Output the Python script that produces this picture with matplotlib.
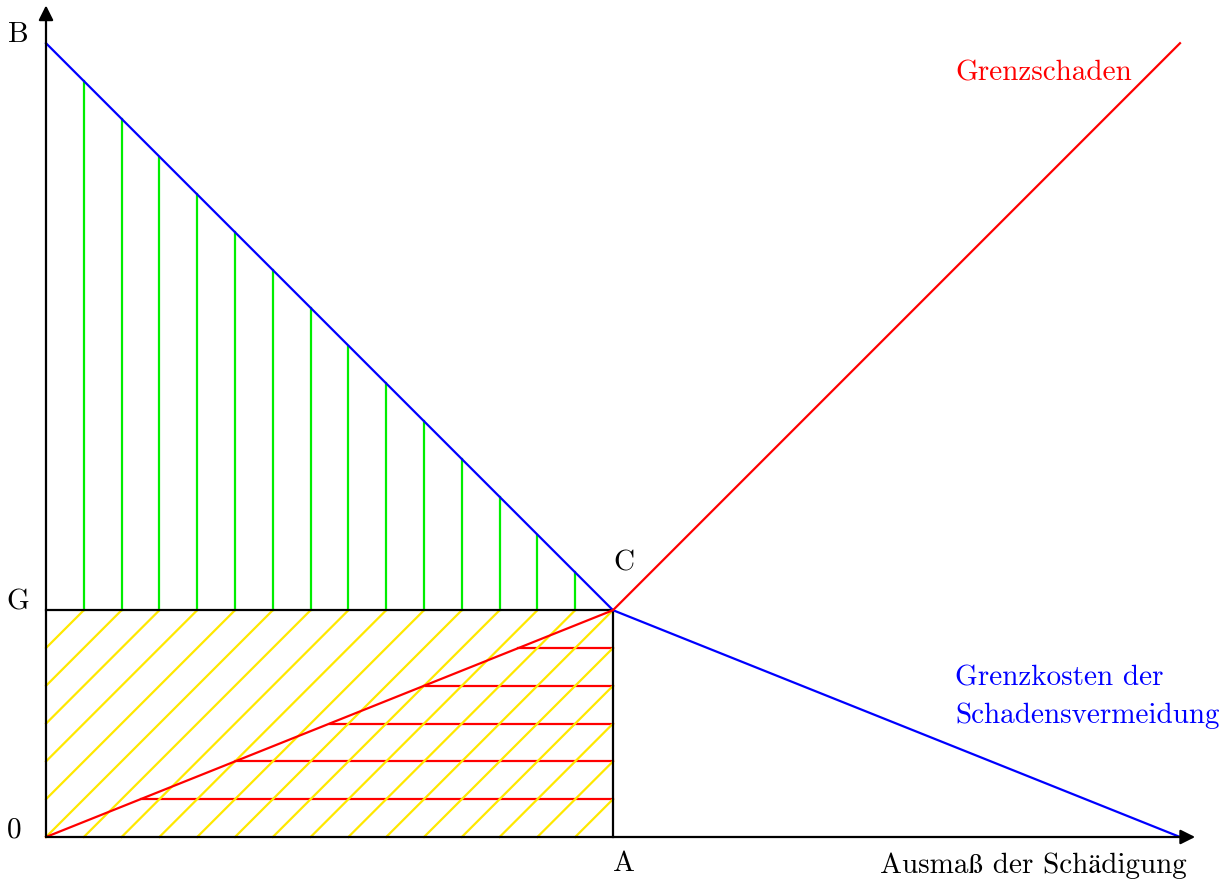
import numpy as np
import matplotlib.pyplot as plt

# Kurven (Einheiten: 1 = 1 cm)
gk_x = [0, 15, 30]      # Grenzkosten der Schadensvermeidung
gk_y = [21, 6, 0]
gs_x = [0, 15, 30]      # Grenzschaden
gs_y = [0, 6, 21]

# Punkte
A = 15
G = 6

# Schraffuren
gruen_x = [1, 2, 3, 4, 5, 6, 7, 8, 9, 10, 11, 12, 13, 14]
rot_y = [1, 2, 3, 4, 5]
gelb_off = [5, 4, 3, 2, 1, 0, -1, -2, -3, -4, -5, -6, -7, -8, -9, -10, -11, -12, -13, -14]

px = 37.8
fig = plt.figure(figsize=(12.2, 8.81), dpi=100)
ax = fig.add_axes([0, 0, 1, 1])
ax.set_xlim(-46 / px, (1220 - 46) / px)
ax.set_ylim(-(881 - 837) / px, 837 / px)
ax.axis('off')

fs = 21
font = ['cmr10', 'STIXGeneral']
lw = 1.6

# gelbe Schraffur (45 Grad) im Rechteck 0..A x 0..G
for c in gelb_off:
    x0 = max(0, -c)
    x1 = min(A, G - c)
    ax.plot([x0, x1], [x0 + c, x1 + c], color='#ffe800', lw=lw, zorder=2)

# rote waagrechte Linien
for y in rot_y:
    xs = np.interp(y, gs_y[:2], gs_x[:2])
    ax.plot([xs, A], [y, y], color='red', lw=lw, zorder=1)

# gruene senkrechte Linien
for x in gruen_x:
    ax.plot([x, x], [G, np.interp(x, gk_x, gk_y)], color='#00ee00', lw=lw, zorder=1)

# Rechteck
ax.plot([0, A], [G, G], color='black', lw=lw, zorder=3)
ax.plot([A, A], [0, G], color='black', lw=lw, zorder=3)

# Kurven
ax.plot(gk_x, gk_y, color='blue', lw=lw, zorder=4)
ax.plot(gs_x, gs_y, color='red', lw=lw, zorder=4)

# Achsen
ax.annotate('', xy=(30.4, 0), xytext=(0, 0),
            arrowprops=dict(arrowstyle='-|>', mutation_scale=22, lw=lw, color='black', shrinkA=0, shrinkB=0), zorder=5)
ax.annotate('', xy=(0, 22), xytext=(0, 0),
            arrowprops=dict(arrowstyle='-|>', mutation_scale=22, lw=lw, color='black', shrinkA=0, shrinkB=0), zorder=5)

def lab(pxx, pyy, s, color='black', ha='center'):
    ax.text((pxx - 46) / px, (837 - pyy) / px, s, color=color, fontsize=fs,
            family=font, ha=ha, va='center')

lab(18, 35, 'B')
lab(18, 602, 'G')
lab(14, 830, '0')
lab(624, 563, 'C')
lab(624, 864, 'A')
lab(955, 73, 'Grenzschaden', color='red', ha='left')
lab(955, 678, 'Grenzkosten der', color='blue', ha='left')
lab(955, 716, 'Schadensvermeidung', color='blue', ha='left')
lab(880, 866, 'Ausmaß der Schädigung', ha='left')

fig.savefig('out.png', dpi=100)
